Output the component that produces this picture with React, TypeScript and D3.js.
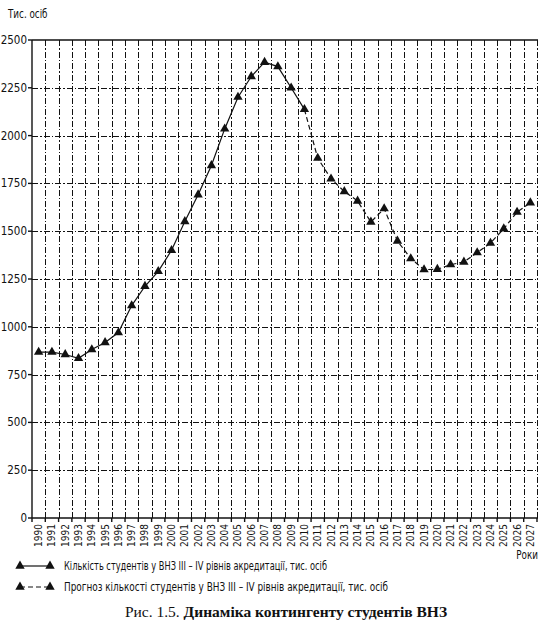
import React, { useEffect, useRef } from 'react';
import * as d3 from 'd3';

const years = ['1990', '1991', '1992', '1993', '1994', '1995', '1996', '1997', '1998', '1999',
  '2000', '2001', '2002', '2003', '2004', '2005', '2006', '2007', '2008', '2009',
  '2010', '2011', '2012', '2013', '2014', '2015', '2016', '2017', '2018', '2019',
  '2020', '2021', '2022', '2023', '2024', '2025', '2026', '2027'];

// фактичні дані, 1990–2010
const actualYears = years.slice(0, 21);
const actualValues = [868, 868, 855, 835, 881, 918, 970, 1111, 1212, 1290, 1400, 1551, 1691,
  1844, 2035, 2201, 2309, 2384, 2361, 2250, 2137];

// прогноз, 2010–2027
const forecastYears = years.slice(20);
const forecastValues = [2137, 1882, 1774, 1708, 1658, 1548, 1618, 1449, 1357, 1299, 1301, 1325,
  1339, 1388, 1438, 1513, 1600, 1649];

const yTicks = [0, 250, 500, 750, 1000, 1250, 1500, 1750, 2000, 2250, 2500];

const legendLabels = [
  'Кількість студентів у ВНЗ III – IV рівнів акредитації, тис. осіб',
  'Прогноз кількості студентів у ВНЗ III – IV рівнів акредитації, тис. осіб',
];
const legendWidths = [263, 324];

const narrow = '"Liberation Sans Narrow", "DejaVu Sans Condensed", "Roboto Condensed", sans-serif';

const App = () => {
  const svgRef = useRef(null);

  useEffect(() => {
    const width = 553;
    const height = 638;
    const left = 32, right = 537, top = 40, bottom = 518;

    const svg = d3.select(svgRef.current)
      .attr('width', width)
      .attr('height', height);
    svg.selectAll('*').remove();

    const x = d3.scaleBand().domain(years).range([left, right]).padding(0);
    const y = d3.scaleLinear().domain([0, 2500]).range([bottom, top]);
    const cx = d => x(d) + x.bandwidth() / 2;
    const snap = v => Math.round(v) + 0.5;

    const grid = svg.append('g').attr('shape-rendering', 'crispEdges');
    const gridDash = '6,2,1.5,2';

    // vertical grid at band boundaries
    const bounds = years.map(d => x(d)).slice(1).concat([right]);
    grid.selectAll('line.v')
      .data(bounds)
      .enter()
      .append('line')
      .attr('x1', d => snap(d)).attr('x2', d => snap(d))
      .attr('y1', top).attr('y2', bottom)
      .attr('stroke', '#111')
      .attr('stroke-width', 1)
      .attr('stroke-dasharray', gridDash);

    grid.selectAll('line.h')
      .data(yTicks.filter(t => t > 0 && t < 2500))
      .enter()
      .append('line')
      .attr('x1', left).attr('x2', right)
      .attr('y1', d => snap(y(d))).attr('y2', d => snap(y(d)))
      .attr('stroke', '#111')
      .attr('stroke-width', 1)
      .attr('stroke-dasharray', gridDash);

    // top border
    svg.append('line')
      .attr('x1', left).attr('x2', right + 1)
      .attr('y1', y(2500)).attr('y2', y(2500))
      .attr('stroke', '#111').attr('stroke-width', 1.4);

    // y axis
    const yAxis = svg.append('g');
    yAxis.append('line')
      .attr('x1', left).attr('x2', left)
      .attr('y1', top).attr('y2', bottom)
      .attr('stroke', '#111').attr('stroke-width', 1.4);
    yAxis.selectAll('line.t')
      .data(yTicks)
      .enter()
      .append('line')
      .attr('x1', left - 4).attr('x2', left)
      .attr('y1', d => y(d)).attr('y2', d => y(d))
      .attr('stroke', '#111').attr('stroke-width', 1.4);
    yAxis.selectAll('text')
      .data(yTicks)
      .enter()
      .append('text')
      .attr('x', left - 5)
      .attr('y', d => y(d) + 4)
      .attr('text-anchor', 'end')
      .attr('font-family', narrow)
      .attr('font-size', 11.5)
      .attr('fill', '#111')
      .text(d => d);

    // x axis
    const xAxis = svg.append('g');
    xAxis.append('line')
      .attr('x1', left).attr('x2', right + 1)
      .attr('y1', bottom).attr('y2', bottom)
      .attr('stroke', '#111').attr('stroke-width', 1.4);
    xAxis.selectAll('line.t')
      .data([left].concat(bounds))
      .enter()
      .append('line')
      .attr('x1', d => d).attr('x2', d => d)
      .attr('y1', bottom).attr('y2', bottom + 4)
      .attr('stroke', '#111').attr('stroke-width', 1.4);
    xAxis.selectAll('text')
      .data(years)
      .enter()
      .append('text')
      .attr('transform', d => `translate(${cx(d) + 3.5},${bottom + 6}) rotate(-90)`)
      .attr('text-anchor', 'end')
      .attr('font-family', narrow)
      .attr('font-size', 10)
      .attr('fill', '#111')
      .text(d => d);

    svg.append('text')
      .attr('transform', 'translate(8,18) scale(0.85,1)')
      .attr('font-family', narrow)
      .attr('font-size', 11.5)
      .attr('fill', '#111')
      .text('Тис. осіб');

    svg.append('text')
      .attr('transform', 'translate(538,559) scale(0.85,1)')
      .attr('text-anchor', 'end')
      .attr('font-family', narrow)
      .attr('font-size', 11.5)
      .attr('fill', '#111')
      .text('Роки');

    const line = d3.line().x(d => cx(d[0])).y(d => y(d[1]));
    const tri = d3.symbol().type(d3.symbolTriangle).size(38);

    const actual = actualYears.map((d, i) => [d, actualValues[i]]);
    const forecast = forecastYears.map((d, i) => [d, forecastValues[i]]);

    svg.append('path')
      .datum(actual)
      .attr('d', line)
      .attr('fill', 'none')
      .attr('stroke', '#111')
      .attr('stroke-width', 1.2);

    svg.append('path')
      .datum(forecast)
      .attr('d', line)
      .attr('fill', 'none')
      .attr('stroke', '#111')
      .attr('stroke-width', 1.2)
      .attr('stroke-dasharray', '5,3');

    svg.selectAll('path.m')
      .data(actual.concat(forecast.slice(1)))
      .enter()
      .append('path')
      .attr('d', tri)
      .attr('transform', d => `translate(${cx(d[0])},${y(d[1])})`)
      .attr('fill', '#111');

    // legend
    const legend = svg.append('g');
    legendLabels.forEach((label, i) => {
      const ly = 566 + i * 21;
      legend.append('line')
        .attr('x1', 20).attr('x2', 50)
        .attr('y1', ly).attr('y2', ly)
        .attr('stroke', '#111')
        .attr('stroke-width', 1.2)
        .attr('stroke-dasharray', i === 0 ? null : '5,3');
      [20, 50].forEach(lx => {
        legend.append('path')
          .attr('d', tri)
          .attr('transform', `translate(${lx},${ly})`)
          .attr('fill', '#111');
      });
      legend.append('text')
        .attr('x', 64).attr('y', ly + 4)
        .attr('textLength', legendWidths[i])
        .attr('lengthAdjust', 'spacingAndGlyphs')
        .attr('font-family', narrow)
        .attr('font-size', 12)
        .attr('fill', '#111')
        .text(label);
    });

    const caption = svg.append('text')
      .attr('x', 286).attr('y', 617)
      .attr('text-anchor', 'middle')
      .attr('font-family', '"Liberation Serif", "DejaVu Serif", serif')
      .attr('font-size', 15.5)
      .attr('fill', '#111');
    caption.append('tspan').text('Рис. 1.5. ');
    caption.append('tspan').attr('font-weight', 'bold').text('Динаміка контингенту студентів ВНЗ');
  }, []);

  return <svg ref={svgRef} style={{ position: 'absolute', left: 0, top: 0, background: '#fff' }} />;
};

export default App;
